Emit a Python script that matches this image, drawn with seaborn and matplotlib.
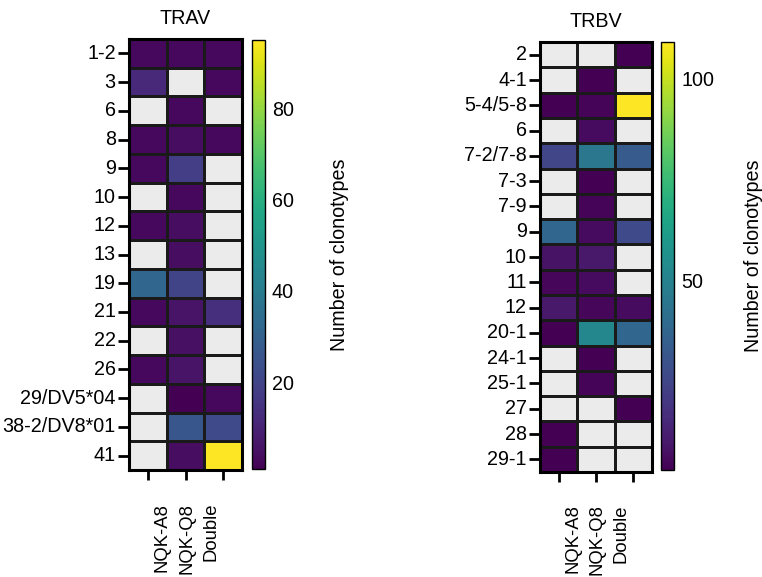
import numpy as np
import pandas as pd
import seaborn as sns
import matplotlib.pyplot as plt
from matplotlib.colors import ListedColormap
from matplotlib.transforms import ScaledTranslation

nan = np.nan

groups = ['NQK-A8', 'NQK-Q8', 'Double']

trav_genes = ['1-2', '3', '6', '8', '9', '10', '12', '13', '19', '21', '22', '26',
              '29/DV5*04', '38-2/DV8*01', '41']
trav_a8 = [3, 12, nan, 3, 3, nan, 3, nan, 32, 3, nan, 3, nan, nan, nan]
trav_q8 = [3, nan, 3, 4, 18, 3, 4, 4, 20, 6, 5, 6, 1, 26, 4]
trav_double = [3, 3, nan, 3, nan, nan, nan, nan, nan, 14, nan, nan, 3, 22, 95]

trbv_genes = ['2', '4-1', '5-4/5-8', '6', '7-2/7-8', '7-3', '7-9', '9', '10', '11', '12',
              '20-1', '24-1', '25-1', '27', '28', '29-1']
trbv_a8 = [nan, nan, 3, nan, 25, nan, nan, 38, 8, 5, 10, 3, nan, nan, nan, 3, 3]
trbv_q8 = [nan, 3, 4, 6, 45, 3, 4, 6, 10, 6, 5, 52, 3, 4, nan, nan, nan]
trbv_double = [3, nan, 109, nan, 33, nan, nan, 27, nan, nan, 6, 38, nan, nan, 3, nan, nan]

trav = pd.DataFrame({'NQK-A8': trav_a8, 'NQK-Q8': trav_q8, 'Double': trav_double},
                    index=trav_genes)[groups]
trbv = pd.DataFrame({'NQK-A8': trbv_a8, 'NQK-Q8': trbv_q8, 'Double': trbv_double},
                    index=trbv_genes)[groups]

sns.set_style('ticks')
plt.rcParams['font.family'] = ['Liberation Sans', 'DejaVu Sans']
plt.rcParams['text.color'] = 'black'
plt.rcParams['xtick.color'] = 'black'
plt.rcParams['ytick.color'] = 'black'
plt.rcParams['xtick.labelcolor'] = 'black'
plt.rcParams['ytick.labelcolor'] = 'black'
plt.rcParams['axes.labelcolor'] = 'black'
fs = 14.2

fig = plt.figure(figsize=(7.62, 5.77), dpi=100, facecolor='white')

ax1 = fig.add_axes([0.1693, 0.1854, 0.1483, 0.747])
cax1 = fig.add_axes([0.3307, 0.1872, 0.0171, 0.7435])
ax2 = fig.add_axes([0.7087, 0.182, 0.147, 0.745])
cax2 = fig.add_axes([0.8675, 0.1854, 0.0171, 0.7418])

grey = ListedColormap(['#ebebeb'])
# x label shifts (px): the rotated labels sit closer together than the columns
xshift = [14, 1, -12]


def draw(df, ax, cax, title, cticks, lab_x):
    empty = df.isnull()
    # grey cells for missing genes, with their own edges
    sns.heatmap(empty.astype(float), mask=~empty, cmap=grey, cbar=False,
                linewidths=0.9, linecolor='#1a1a1a', ax=ax)
    sns.heatmap(df, cmap='viridis', linewidths=0.9, linecolor='#1a1a1a', ax=ax,
                cbar_ax=cax, cbar_kws={'ticks': cticks})
    for s in ax.spines.values():
        s.set_visible(True)
        s.set_linewidth(2.2)
        s.set_color('black')
        s.set_zorder(5)
    ax.set_xlabel('')
    ax.set_ylabel('')
    ax.set_title(title, fontsize=fs, pad=11, color='black')
    ax.tick_params(axis='y', length=8, width=2, pad=1.5, labelsize=fs)
    ax.tick_params(axis='x', length=7.5, width=2, pad=16, labelsize=13.3)
    ax.set_yticklabels(df.index, rotation=0)
    ax.set_xticklabels(groups, rotation=90, ha='center', va='top')
    for lab, dx in zip(ax.get_xticklabels(), xshift):
        off = ScaledTranslation(dx / 100, 0, fig.dpi_scale_trans)
        lab.set_transform(lab.get_transform() + off)

    cbar = ax.collections[-1].colorbar
    cbar.outline.set_linewidth(1)
    cbar.outline.set_edgecolor('black')
    cax.tick_params(direction='in', length=9.4, width=1, pad=5, labelsize=fs, color='#1a1a1a')
    cbar.set_label('Number of clonotypes', fontsize=fs, color='black')
    cax.yaxis.set_label_coords(lab_x, 0.5)


draw(trav, ax1, cax1, 'TRAV', [20, 40, 60, 80], 6.0)
draw(trbv, ax2, cax2, 'TRBV', [50, 100], 6.35)

fig.savefig('out.png', dpi=100, facecolor='white')
